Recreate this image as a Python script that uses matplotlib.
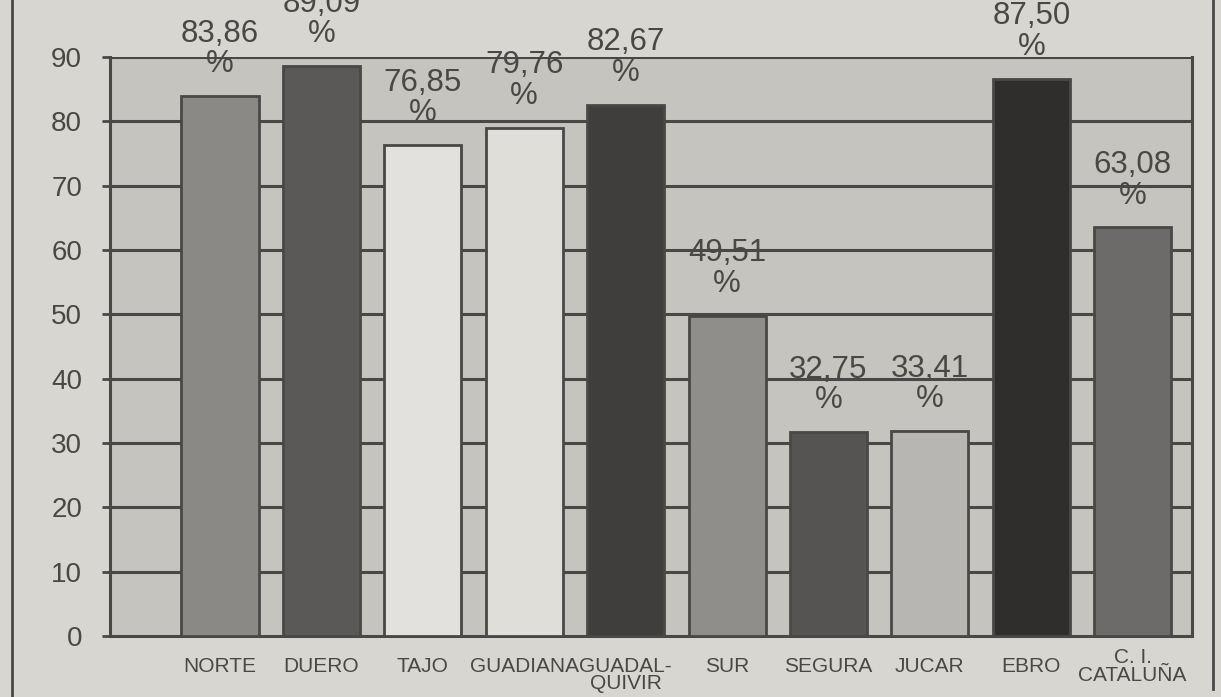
import numpy as np
import matplotlib.pyplot as plt
from matplotlib.lines import Line2D

# Datos
cuencas = ['NORTE', 'DUERO', 'TAJO', 'GUADIANA', 'GUADAL-\nQUIVIR', 'SUR',
           'SEGURA', 'JUCAR', 'EBRO', 'C. I.\nCATALUÑA']
valores = [83.86, 89.09, 76.85, 79.76, 82.67, 49.51, 32.75, 33.41, 87.50, 63.08]
# alturas dibujadas de las barras
alturas = [83.9, 88.6, 76.3, 79.0, 82.6, 49.8, 31.7, 31.8, 86.6, 63.5]
colores = ['#8b8986', '#5b5957', '#e3e1dd', '#e0ded9', '#403e3c',
           '#908e8b', '#565452', '#b8b6b2', '#302e2d', '#6d6b69']
yticks = [0, 10, 20, 30, 40, 50, 60, 70, 80, 90]

fondo = '#d8d6d1'
fondo_graf = '#c6c4bf'
tinta = '#4a4846'

plt.rcParams['font.family'] = ['Liberation Sans', 'DejaVu Sans']

fig = plt.figure(figsize=(12.21, 6.97), dpi=100, facecolor=fondo)
ax = fig.add_axes([110 / 1221, 61 / 697, 1082 / 1221, 579 / 697])
ax.set_facecolor(fondo_graf)

x = np.arange(len(cuencas))
ax.bar(x, alturas, width=0.76, color=colores, edgecolor=tinta,
       linewidth=2, zorder=3)

# lineas horizontales
for t in yticks[1:]:
    ax.axhline(t, color=tinta, lw=2.2, zorder=2)

# etiquetas de valor
for xi, h, v in zip(x, alturas, valores):
    txt = '{:.2f}'.format(v).replace('.', ',')
    ax.annotate('%', (xi, h), xytext=(0, 23), textcoords='offset points',
                ha='center', va='center', fontsize=22.5, color=tinta,
                zorder=1, annotation_clip=False)
    ax.annotate(txt, (xi, h), xytext=(0, 45), textcoords='offset points',
                ha='center', va='center', fontsize=22.5, color=tinta,
                zorder=1, annotation_clip=False)

ax.set_xlim(-1.085, 9.585)
ax.set_ylim(0, 90)
ax.set_yticks(yticks)
ax.set_yticklabels([str(t) for t in yticks])
ax.tick_params(axis='y', direction='out', length=6, width=2, color=tinta,
               labelsize=20, labelcolor=tinta, pad=14)

ax.set_xticks(x)
ax.set_xticklabels(cuencas, fontsize=15, color=tinta, linespacing=0.9)
ax.tick_params(axis='x', length=0, pad=15)
lbl = ax.get_xticklabels()[-1]
lbl.set_y(0.015)

for s in ['left', 'bottom', 'right']:
    ax.spines[s].set_color(tinta)
    ax.spines[s].set_linewidth(2.2)
ax.spines['top'].set_visible(False)

# marco exterior
fig.add_artist(Line2D([12 / 1221, 12 / 1221], [0, 1], color=tinta, lw=2))
fig.add_artist(Line2D([1213 / 1221, 1213 / 1221], [8 / 697, 1], color=tinta, lw=2))

fig.savefig('out.png', dpi=100, facecolor=fondo)
